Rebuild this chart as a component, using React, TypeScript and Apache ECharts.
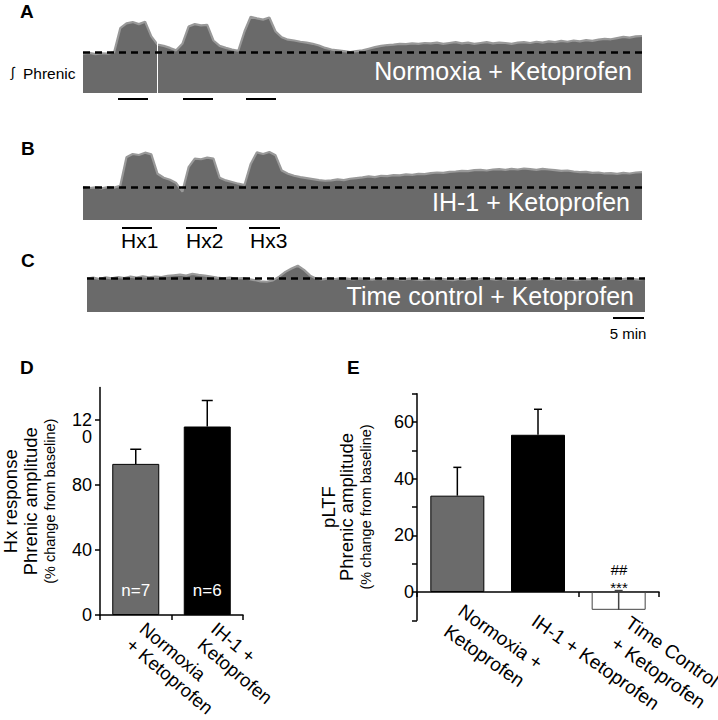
import React, { useEffect, useRef } from "react";
import * as echarts from "echarts";

const FONT = "'Liberation Sans', Arial, Helvetica, sans-serif";

// ---- Traces (integrated phrenic, % of baseline, sampled each minute, 0..90 min) ----
const traceA = [
  96, 98, 95, 97, 96, 99, 158, 170, 173, 168, 174, 138, 118, 115, 110, 104, 120, 162, 168, 165,
  166, 128, 115, 110, 106, 103, 150, 186, 182, 179, 184, 150, 136, 130, 128, 125, 123, 120, 116, 110,
  106, 104, 102, 100, 102, 104, 108, 112, 115, 117, 118, 120, 119, 121, 120, 122, 121, 123, 120, 122,
  124, 121, 123, 120, 122, 124, 121, 123, 122, 120, 123, 124, 122, 125, 123, 126, 124, 127, 125, 128,
  126, 129, 127, 130, 132, 131, 134, 137, 135, 138, 139,
];
const traceB = [
  100, 97, 99, 96, 100, 98, 104, 190, 200, 197, 204, 199, 140, 128, 122, 112, 86, 160, 186, 184,
  189, 186, 128, 120, 115, 110, 106, 170, 205, 200, 206, 196, 150, 140, 134, 130, 127, 124, 121, 119,
  120, 123, 121, 125, 127, 129, 132, 130, 134, 133, 136, 135, 138, 137, 140, 139, 142, 144, 143, 146,
  147, 149, 148, 151, 152, 150, 153, 154, 152, 155, 153, 156, 154, 152, 155, 153, 151, 149, 150, 147,
  145, 146, 143, 144, 141, 142, 140, 143, 141, 144, 145,
];
const traceC = [
  98, 101, 97, 102, 99, 103, 100, 104, 101, 105, 102, 104, 103, 106, 108, 110, 107, 112, 109, 107,
  104, 101, 99, 101, 98, 100, 97, 94, 90, 89, 93, 104, 118, 128, 136, 124, 107, 98, 96, 99,
  97, 100, 98, 96, 99, 97, 95, 98, 96, 99, 97, 95, 98, 96, 94, 97, 95, 98, 96, 94,
  97, 95, 98, 96, 99, 97, 95, 98, 96, 94, 97, 95, 98, 96, 99, 97, 95, 98, 96, 94,
  97, 96, 98, 95, 97, 99, 96, 98, 97, 95, 98,
];
const baselinePct = 100;
const glitchMinuteA = 12;
const traceLabels = ["Normoxia + Ketoprofen", "IH-1 + Ketoprofen", "Time control + Ketoprofen"];
const hxLabels = ["Hx1", "Hx2", "Hx3"];

// ---- Panel D ----
const dCategories = ["Normoxia\n+ Ketoprofen", "IH-1 +\nKetoprofen"];
const dMeans = [93, 116];
const dErrTop = [102, 132];
const dN = ["n=7", "n=6"];
const dColors = ["#6b6b6b", "#000000"];
const dYTicks = [0, 40, 80, 120];
const dYTickLabels = ["0", "40", "80", " \n12\n0"];

// ---- Panel E ----
const eCategories = ["Normoxia +\nKetoprofen", "IH-1 + Ketoprofen", "Time Control\n+ Ketoprofen"];
const eMeans = [34, 55.5, -6.3];
const eErrTop = [44, 64.5, 0.5];
const eColors = ["#6b6b6b", "#000000", "#ffffff"];
const eBorders = ["#000000", "#000000", "#444444"];
const eErrColors = ["#000000", "#000000", "#444444"];
const eYLabels = [0, 20, 40, 60];
const eLowLabelIndex = 2; // the "Time Control" label hangs lower in the original

function traceSeries(data: number[], idx: number, extraMarks: any[] = []) {
  return {
    type: "line",
    xAxisIndex: idx,
    yAxisIndex: idx,
    data: data.map((v, i) => [i, v]),
    showSymbol: false,
    symbol: "none",
    lineStyle: { color: "#999999", width: 2.2 },
    areaStyle: { color: "#6a6a6a", opacity: 1 },
    z: 2,
    markLine: {
      silent: true,
      symbol: ["none", "none"],
      label: { show: false },
      animation: false,
      data: [
        ...extraMarks,
        { yAxis: baselinePct, lineStyle: { color: "#000", width: 2.5, type: [7, 5] } },
      ],
    },
  };
}

function errRender(cap: number, colors: string[]) {
  return (params: any, api: any) => {
    const x = api.value(0);
    const p1 = api.coord([x, api.value(1)]);
    const p2 = api.coord([x, api.value(2)]);
    const c = colors[params.dataIndex];
    return {
      type: "group",
      children: [
        { type: "line", shape: { x1: p1[0], y1: p1[1], x2: p2[0], y2: p2[1] }, style: { stroke: c, lineWidth: 1.5 } },
        { type: "line", shape: { x1: p2[0] - cap / 2, y1: p2[1], x2: p2[0] + cap / 2, y2: p2[1] }, style: { stroke: c, lineWidth: 1.5 } },
      ],
    };
  };
}

function txt(text: string, x: number, y: number, font: string, fill = "#000", align = "left", v = "middle") {
  return {
    type: "text",
    x,
    y,
    z: 100,
    silent: true,
    style: { text, fill, font, align, verticalAlign: v, textAlign: align, textVerticalAlign: v },
  };
}
function seg(x1: number, y1: number, x2: number, y2: number, w = 2) {
  return { type: "line", z: 100, silent: true, shape: { x1, y1, x2, y2 }, style: { stroke: "#000", lineWidth: w } };
}

export default function App() {
  const ref = useRef<HTMLDivElement>(null);
  useEffect(() => {
    const chart = echarts.init(ref.current!, null, { renderer: "svg" });
    const axisBlack = { lineStyle: { color: "#000", width: 1.5 } };
    const g = { containLabel: false, outerBoundsMode: "none" };
    const eLabelStyle = { interval: 0, rotate: -35, fontSize: 19, lineHeight: 25, color: "#000", fontFamily: FONT };
    const option: any = {
      animation: false,
      backgroundColor: "#fff",
      textStyle: { fontFamily: FONT },
      grid: [
        { left: 83, top: 11, width: 559, height: 82, ...g },
        { left: 83, top: 147.4, width: 559, height: 72.6, ...g },
        { left: 87, top: 261, width: 558, height: 51, ...g },
        { left: 100, top: 387.5, width: 143, height: 227.5, ...g },
        { left: 417, top: 393.7, width: 242, height: 226.6, ...g },
        // label-only grids for panel E category names (bottom edge on the zero line)
        { left: 413, top: 393.7, width: 242, height: 198.3, ...g },
        { left: 419, top: 393.7, width: 242, height: 198.3, ...g },
      ],
      xAxis: [
        { gridIndex: 0, type: "value", min: 0, max: 90, show: false },
        { gridIndex: 1, type: "value", min: 0, max: 90, show: false },
        { gridIndex: 2, type: "value", min: 0, max: 90, show: false },
        {
          gridIndex: 3,
          type: "category",
          data: dCategories,
          axisLine: axisBlack,
          axisTick: { show: true, length: 5, lineStyle: { color: "#000", width: 1.5 } },
          axisLabel: {
            interval: 0,
            rotate: -40,
            fontSize: 18.5,
            lineHeight: 21,
            color: "#000",
            margin: 19,
            fontFamily: FONT,
          },
        },
        {
          gridIndex: 4,
          type: "category",
          data: eCategories,
          axisLine: { onZero: true, ...axisBlack },
          axisTick: { show: true, length: 5, lineStyle: { color: "#000", width: 1.5 } },
          axisLabel: { show: false },
        },
        {
          gridIndex: 5,
          type: "category",
          data: eCategories,
          z: 10,
          axisLine: { show: false },
          axisTick: { show: false },
          axisLabel: {
            ...eLabelStyle,
            margin: 27,
            formatter: (v: string, i: number) => (i === eLowLabelIndex ? "" : v),
          },
        },
        {
          gridIndex: 6,
          type: "category",
          data: eCategories,
          z: 10,
          axisLine: { show: false },
          axisTick: { show: false },
          axisLabel: {
            ...eLabelStyle,
            margin: 39,
            formatter: (v: string, i: number) => (i === eLowLabelIndex ? v : ""),
          },
        },
      ],
      yAxis: [
        { gridIndex: 0, type: "value", min: 0, max: 200, show: false },
        { gridIndex: 1, type: "value", min: 0, max: 220, show: false },
        { gridIndex: 2, type: "value", min: 0, max: 150, show: false },
        {
          gridIndex: 3,
          type: "value",
          min: 0,
          max: 140,
          interval: 40,
          splitLine: { show: false },
          axisLine: { show: true, ...axisBlack },
          axisTick: { show: true, length: 5, customValues: dYTicks, lineStyle: { color: "#000", width: 1.5 } },
          axisLabel: {
            customValues: dYTicks,
            formatter: (v: number) => {
              const i = dYTicks.indexOf(v);
              return i >= 0 ? dYTickLabels[i] : "";
            },
            fontSize: 18,
            lineHeight: 17,
            color: "#000",
            margin: 8,
            fontFamily: FONT,
          },
          name: "{a|Hx response}\n{a|Phrenic amplitude}\n{b|(% change from baseline)}",
          nameLocation: "middle",
          nameRotate: 90,
          nameGap: 40,
          nameTextStyle: {
            color: "#000",
            fontSize: 18,
            rich: {
              a: { fontSize: 18.5, lineHeight: 20, color: "#000", fontFamily: FONT },
              b: { fontSize: 14.5, lineHeight: 20, color: "#000", fontFamily: FONT },
            },
          },
        },
        {
          gridIndex: 4,
          type: "value",
          min: -10,
          max: 70,
          interval: 10,
          splitLine: { show: false },
          axisLine: { show: true, ...axisBlack },
          axisTick: { show: true, length: 5, lineStyle: { color: "#000", width: 1.5 } },
          axisLabel: {
            formatter: (v: number) => (eYLabels.indexOf(v) >= 0 ? String(v) : ""),
            fontSize: 18,
            color: "#000",
            margin: 3,
            fontFamily: FONT,
          },
          name: "{a|pLTF}\n{a|Phrenic amplitude}\n{b|(% change from baseline)}",
          nameLocation: "middle",
          nameRotate: 90,
          nameGap: 40,
          nameTextStyle: {
            color: "#000",
            fontSize: 18,
            rich: {
              a: { fontSize: 18.5, lineHeight: 18, color: "#000", fontFamily: FONT },
              b: { fontSize: 14.5, lineHeight: 22, color: "#000", fontFamily: FONT },
            },
          },
        },
        { gridIndex: 5, type: "value", min: 0, max: 1, show: false },
        { gridIndex: 6, type: "value", min: 0, max: 1, show: false },
      ],
      series: [
        traceSeries(traceA, 0, [{ xAxis: glitchMinuteA, lineStyle: { color: "#fff", width: 1, type: "solid" } }]),
        traceSeries(traceB, 1),
        traceSeries(traceC, 2),
        {
          type: "bar",
          xAxisIndex: 3,
          yAxisIndex: 3,
          barWidth: 47,
          data: dMeans.map((v, i) => ({ value: v, itemStyle: { color: dColors[i], borderColor: "#000", borderWidth: 1 } })),
          label: {
            show: true,
            position: "insideBottom",
            distance: 16,
            formatter: (p: any) => dN[p.dataIndex],
            color: "#fff",
            fontSize: 17,
            fontFamily: FONT,
          },
        },
        {
          type: "custom",
          xAxisIndex: 3,
          yAxisIndex: 3,
          data: dMeans.map((v, i) => [i, v, dErrTop[i]]),
          renderItem: errRender(11, ["#000", "#000"]),
          z: 5,
        },
        {
          type: "bar",
          xAxisIndex: 4,
          yAxisIndex: 4,
          barWidth: 54,
          data: eMeans.map((v, i) => ({ value: v, itemStyle: { color: eColors[i], borderColor: eBorders[i], borderWidth: 1 } })),
        },
        {
          type: "custom",
          xAxisIndex: 4,
          yAxisIndex: 4,
          data: eMeans.map((v, i) => [i, v, eErrTop[i]]),
          renderItem: errRender(8, eErrColors),
          z: 5,
        },
      ],
      graphic: [
        txt("A", 20, 11, `bold 19px ${FONT}`),
        txt("B", 21, 148, `bold 19px ${FONT}`),
        txt("C", 21, 260, `bold 19px ${FONT}`),
        txt("D", 20, 367, `bold 19px ${FONT}`),
        txt("E", 347, 367, `bold 19px ${FONT}`),
        txt("\u222B", 11, 72, `14px ${FONT}`),
        txt("Phrenic", 23, 73, `15.5px ${FONT}`),
        txt(traceLabels[0], 632, 71, `25px ${FONT}`, "#fff", "right"),
        txt(traceLabels[1], 630, 202, `25px ${FONT}`, "#fff", "right"),
        txt(traceLabels[2], 634, 296, `25px ${FONT}`, "#fff", "right"),
        seg(118, 99, 148, 99),
        seg(183, 99, 213, 99),
        seg(246, 99, 276, 99),
        seg(122, 228, 152, 228),
        seg(186, 228, 217, 228),
        seg(249, 228, 280, 228),
        txt(hxLabels[0], 121, 240, `21px ${FONT}`),
        txt(hxLabels[1], 186, 240, `21px ${FONT}`),
        txt(hxLabels[2], 250, 240, `21px ${FONT}`),
        seg(613, 318, 644, 318),
        txt("5 min", 628, 333, `15px ${FONT}`, "#000", "center"),
        txt("##", 619, 569, `15px ${FONT}`, "#000", "center"),
        txt("***", 619, 587, `15px ${FONT}`, "#000", "center"),
      ],
    };
    chart.setOption(option);
    return () => chart.dispose();
  }, []);
  return (
    <div
      ref={ref}
      style={{ position: "fixed", left: 0, top: 0, width: 718, height: 720, background: "#fff" }}
    />
  );
}
